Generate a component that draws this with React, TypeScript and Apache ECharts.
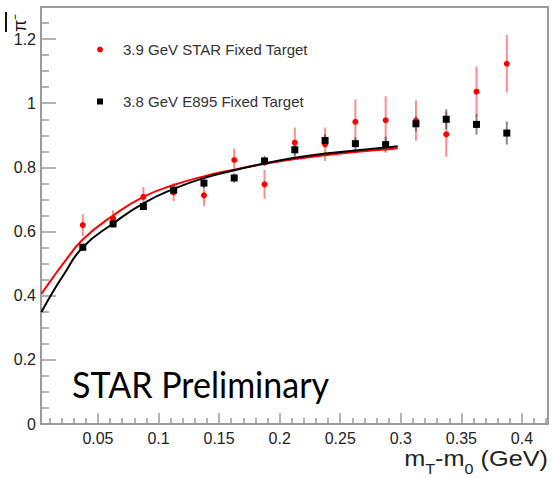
import React, { useEffect, useRef } from "react";
import * as echarts from "echarts";

// bins (mT - m0, GeV)
const mtBins = [0.0375, 0.0625, 0.0875, 0.1125, 0.1375, 0.1625, 0.1875, 0.2125, 0.2375, 0.2625, 0.2875, 0.3125, 0.3375, 0.3625, 0.3875];

// 3.9 GeV STAR Fixed Target
const starRatio = [0.620, 0.641, 0.708, 0.722, 0.713, 0.823, 0.747, 0.877, 0.872, 0.942, 0.947, 0.946, 0.903, 1.036, 1.123];
const starErr = [0.034, 0.025, 0.031, 0.028, 0.034, 0.036, 0.045, 0.047, 0.052, 0.070, 0.075, 0.063, 0.070, 0.078, 0.090];

// 3.8 GeV E895 Fixed Target
const e895Ratio = [0.551, 0.624, 0.678, 0.729, 0.751, 0.767, 0.820, 0.855, 0.884, 0.874, 0.871, 0.936, 0.950, 0.934, 0.907];
const e895Err = [0.012, 0.012, 0.012, 0.013, 0.015, 0.015, 0.016, 0.018, 0.020, 0.020, 0.025, 0.023, 0.031, 0.032, 0.036];

// fit curves
const starFitX = [0.0034, 0.0125, 0.0213, 0.0375, 0.0625, 0.0875, 0.1125, 0.1375, 0.1625, 0.1875, 0.2125, 0.2375, 0.2625, 0.2875, 0.2975];
const starFitY = [0.406, 0.455, 0.500, 0.575, 0.650, 0.708, 0.745, 0.772, 0.793, 0.811, 0.826, 0.838, 0.848, 0.856, 0.860];
const e895FitX = [0.0034, 0.0125, 0.0213, 0.0375, 0.0625, 0.0875, 0.1125, 0.1375, 0.1625, 0.1875, 0.2125, 0.2375, 0.2625, 0.2875, 0.2975];
const e895FitY = [0.349, 0.410, 0.463, 0.551, 0.625, 0.688, 0.733, 0.767, 0.791, 0.812, 0.830, 0.843, 0.853, 0.862, 0.866];

// axis ticks
const xTickLabels = [0.05, 0.1, 0.15, 0.2, 0.25, 0.3, 0.35, 0.4];
const xMinorTicks = [0.01, 0.02, 0.03, 0.04, 0.06, 0.07, 0.08, 0.09, 0.11, 0.12, 0.13, 0.14, 0.16, 0.17, 0.18, 0.19, 0.21, 0.22, 0.23, 0.24, 0.26, 0.27, 0.28, 0.29, 0.31, 0.32, 0.33, 0.34, 0.36, 0.37, 0.38, 0.39, 0.41, 0.42];
const xRange = [0.003, 0.4215];
const yRange = [0, 1.3];

const starName = "3.9 GeV STAR Fixed Target";
const e895Name = "3.8 GeV E895 Fixed Target";

const FONT = "'Liberation Sans', Arial, sans-serif";

export default function App() {
  const ref = useRef<HTMLDivElement>(null);
  useEffect(() => {
    if (!ref.current) return;
    const chart = echarts.init(ref.current, undefined, { renderer: "svg" });
    const errData = (vals: number[], errs: number[]) =>
      mtBins.map((x, i) => [x, vals[i] - errs[i], vals[i] + errs[i]]);
    const errRender = (color: string) => (params: any, api: any) => {
      const p1 = api.coord([api.value(0), api.value(1)]);
      const p2 = api.coord([api.value(0), api.value(2)]);
      return {
        type: "line",
        shape: { x1: p1[0], y1: p1[1], x2: p2[0], y2: p2[1] },
        style: { stroke: color, lineWidth: 2 },
      };
    };
    const axisGray = "#9a9a9a";
    chart.setOption({
      animation: false,
      backgroundColor: "#ffffff",
      grid: {
        left: 41,
        right: 4,
        top: 7,
        bottom: 54,
        show: true,
        borderColor: axisGray,
        borderWidth: 2,
        backgroundColor: "transparent",
      },
      xAxis: [
        {
          type: "value",
          min: xRange[0],
          max: xRange[1],
          axisLine: { show: false },
          splitLine: { show: false },
          axisTick: { show: true, inside: true, length: 11, customValues: xTickLabels, lineStyle: { color: axisGray, width: 1.5 } },
          axisLabel: { customValues: xTickLabels, fontSize: 16, color: "#222", fontFamily: FONT, margin: 6 },
        },
        {
          type: "value",
          min: xRange[0],
          max: xRange[1],
          position: "bottom",
          axisLine: { show: false },
          splitLine: { show: false },
          axisTick: { show: true, inside: true, length: 6, customValues: xMinorTicks, lineStyle: { color: axisGray, width: 1.5 } },
          axisLabel: { show: false },
        },
      ],
      yAxis: {
        type: "value",
        min: yRange[0],
        max: yRange[1],
        interval: 0.2,
        axisLine: { show: false },
        splitLine: { show: false },
        axisTick: { show: true, inside: true, length: 15, lineStyle: { color: axisGray, width: 1.5 } },
        minorTick: { show: true, splitNumber: 4, length: 8, lineStyle: { color: axisGray, width: 1.5 } },
        axisLabel: { fontSize: 16, color: "#222", fontFamily: FONT, margin: 5, showMaxLabel: false },
      },
      legend: {
        orient: "vertical",
        left: 92,
        top: 37,
        itemWidth: 6,
        itemHeight: 6,
        itemGap: 37,
        selectedMode: false,
        textStyle: { fontSize: 15, color: "#333", fontFamily: FONT, padding: [0, 0, 0, 15] },
        data: [
          { name: starName, icon: "circle" },
          { name: e895Name, icon: "rect" },
        ],
      },
      graphic: [
        {
          type: "text",
          x: 72,
          y: 366,
          scaleX: 0.945,
          style: { text: "STAR Preliminary", fontSize: 36, fontFamily: "Lato, sans-serif", fill: "#000" },
        },
        {
          type: "text",
          x: 548,
          y: 476,
          scaleX: 1.15,
          style: {
            text: "{a|m}{s|T}{a|-m}{s|0}{a| (GeV)}",
            align: "right",
            verticalAlign: "bottom",
            rich: {
              a: { fontSize: 22, fontFamily: FONT, fill: "#222", padding: [0, 0, 6, 0], verticalAlign: "bottom" },
              s: { fontSize: 14, fontFamily: FONT, fill: "#222", verticalAlign: "bottom" },
            },
          },
        },
        {
          type: "line",
          shape: { x1: 6, y1: 12, x2: 6, y2: 32 },
          style: { stroke: "#111", lineWidth: 2 },
        },
        {
          type: "text",
          x: 11,
          y: 32,
          rotation: Math.PI / 2,
          style: { text: "π⁻", fontSize: 18, fontFamily: FONT, fill: "#111" },
        },
      ],
      series: [
        {
          name: starName + " err",
          type: "custom",
          renderItem: errRender("rgba(255,0,0,0.45)"),
          data: errData(starRatio, starErr),
          encode: { x: 0, y: [1, 2] },
          z: 1,
        },
        {
          name: e895Name + " err",
          type: "custom",
          renderItem: errRender("rgba(60,60,60,0.6)"),
          data: errData(e895Ratio, e895Err),
          encode: { x: 0, y: [1, 2] },
          z: 1,
        },
        {
          name: "STAR fit",
          type: "line",
          smooth: true,
          showSymbol: false,
          data: starFitX.map((x, i) => [x, starFitY[i]]),
          lineStyle: { color: "#ff0000", width: 2 },
          itemStyle: { color: "#ff0000" },
          z: 2,
        },
        {
          name: "E895 fit",
          type: "line",
          smooth: true,
          showSymbol: false,
          data: e895FitX.map((x, i) => [x, e895FitY[i]]),
          lineStyle: { color: "#000000", width: 2 },
          itemStyle: { color: "#000000" },
          z: 3,
        },
        {
          name: starName,
          type: "scatter",
          symbol: "circle",
          symbolSize: 6,
          data: mtBins.map((x, i) => [x, starRatio[i]]),
          itemStyle: { color: "#ff0000", opacity: 1 },
          z: 4,
        },
        {
          name: e895Name,
          type: "scatter",
          symbol: "rect",
          symbolSize: 7,
          data: mtBins.map((x, i) => [x, e895Ratio[i]]),
          itemStyle: { color: "#000000", opacity: 1 },
          z: 5,
        },
      ],
    });
    return () => chart.dispose();
  }, []);
  return (
    <div
      ref={ref}
      style={{ position: "absolute", left: 0, top: 0, width: 552, height: 478, background: "#fff" }}
    />
  );
}
